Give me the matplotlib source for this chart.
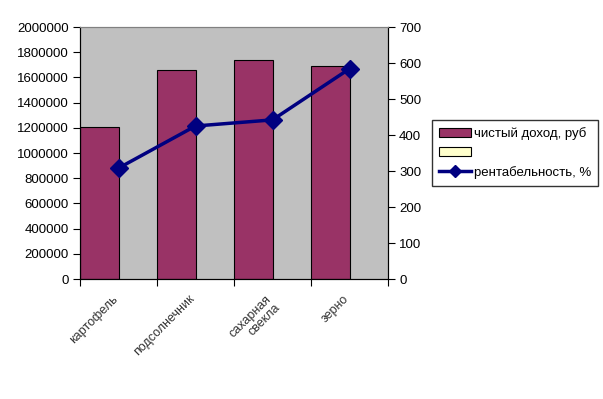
import matplotlib.pyplot as plt
from matplotlib.patches import Patch
from matplotlib.lines import Line2D
import numpy as np

plt.rcParams['font.family'] = ['Liberation Sans', 'DejaVu Sans']

categories = ['картофель', 'подсолнечник', 'сахарная\nсвекла', 'зерно']
net_income = [1210000, 1660000, 1740000, 1690000]
empty_series = [0, 0, 0, 0]
profitability = [308, 425, 442, 584]

fig = plt.figure(figsize=(6.03, 3.99), dpi=100)
ax = fig.add_axes([80 / 603, 1 - 279 / 399, 308 / 603, 252 / 399])
ax.set_facecolor('#C0C0C0')

x = np.arange(len(categories))
ax.bar(x - 0.25, net_income, 0.5, color='#993366', edgecolor='black', linewidth=0.8, zorder=2)
ax.bar(x + 0.25, empty_series, 0.5, color='#FFFFCC', linewidth=0, zorder=2)
ax.set_xlim(-0.5, 3.5)
ax.set_ylim(0, 2000000)
ax.set_yticks(np.arange(0, 2000001, 200000))
ax.set_yticklabels([str(v) for v in range(0, 2000001, 200000)], fontsize=9.5)

# category boundaries get tick marks, labels sit slightly left of centre
ax.set_xticks(np.arange(-0.5, 4, 1))
ax.set_xticklabels([])
ax.set_xticks(x - 0.09, minor=True)
ax.set_xticklabels(categories, minor=True, rotation=45, ha='right',
                   rotation_mode='anchor', fontsize=9, color='#333333',
                   linespacing=1.0)
ax.tick_params(axis='x', which='minor', length=0, pad=10)
ax.tick_params(axis='x', which='major', length=5, direction='out')
ax.tick_params(axis='y', length=5, direction='out', pad=3)

ax2 = ax.twinx()
ax2.plot(x, profitability, color='#000080', linewidth=2.5, marker='D',
         markersize=9, zorder=3)
ax2.set_ylim(0, 700)
ax2.set_yticks(np.arange(0, 701, 100))
ax2.set_yticklabels([str(v) for v in range(0, 701, 100)], fontsize=9.5)
ax2.tick_params(axis='y', length=5, direction='out', pad=3)

for a in (ax, ax2):
    a.spines['top'].set_color('#808080')
    a.spines['left'].set_color('black')
    a.spines['right'].set_color('black')
    a.spines['bottom'].set_color('black')

handles = [
    Patch(facecolor='#993366', edgecolor='black', linewidth=0.8),
    Patch(facecolor='#FFFFCC', edgecolor='black', linewidth=0.8),
    Line2D([], [], color='#000080', linewidth=2.5, marker='D', markersize=6),
]
labels = ['чистый доход, руб', '', 'рентабельность, %']
leg = fig.legend(handles, labels, loc='upper left',
                 bbox_to_anchor=(432 / 603, 1 - 120 / 399),
                 fontsize=9.5, frameon=True, fancybox=False,
                 edgecolor='black', borderaxespad=0, handlelength=2.4,
                 handletextpad=0.2, labelspacing=0.5, borderpad=0.55)
leg.get_frame().set_linewidth(1.0)

fig.savefig('out.png', dpi=100)
